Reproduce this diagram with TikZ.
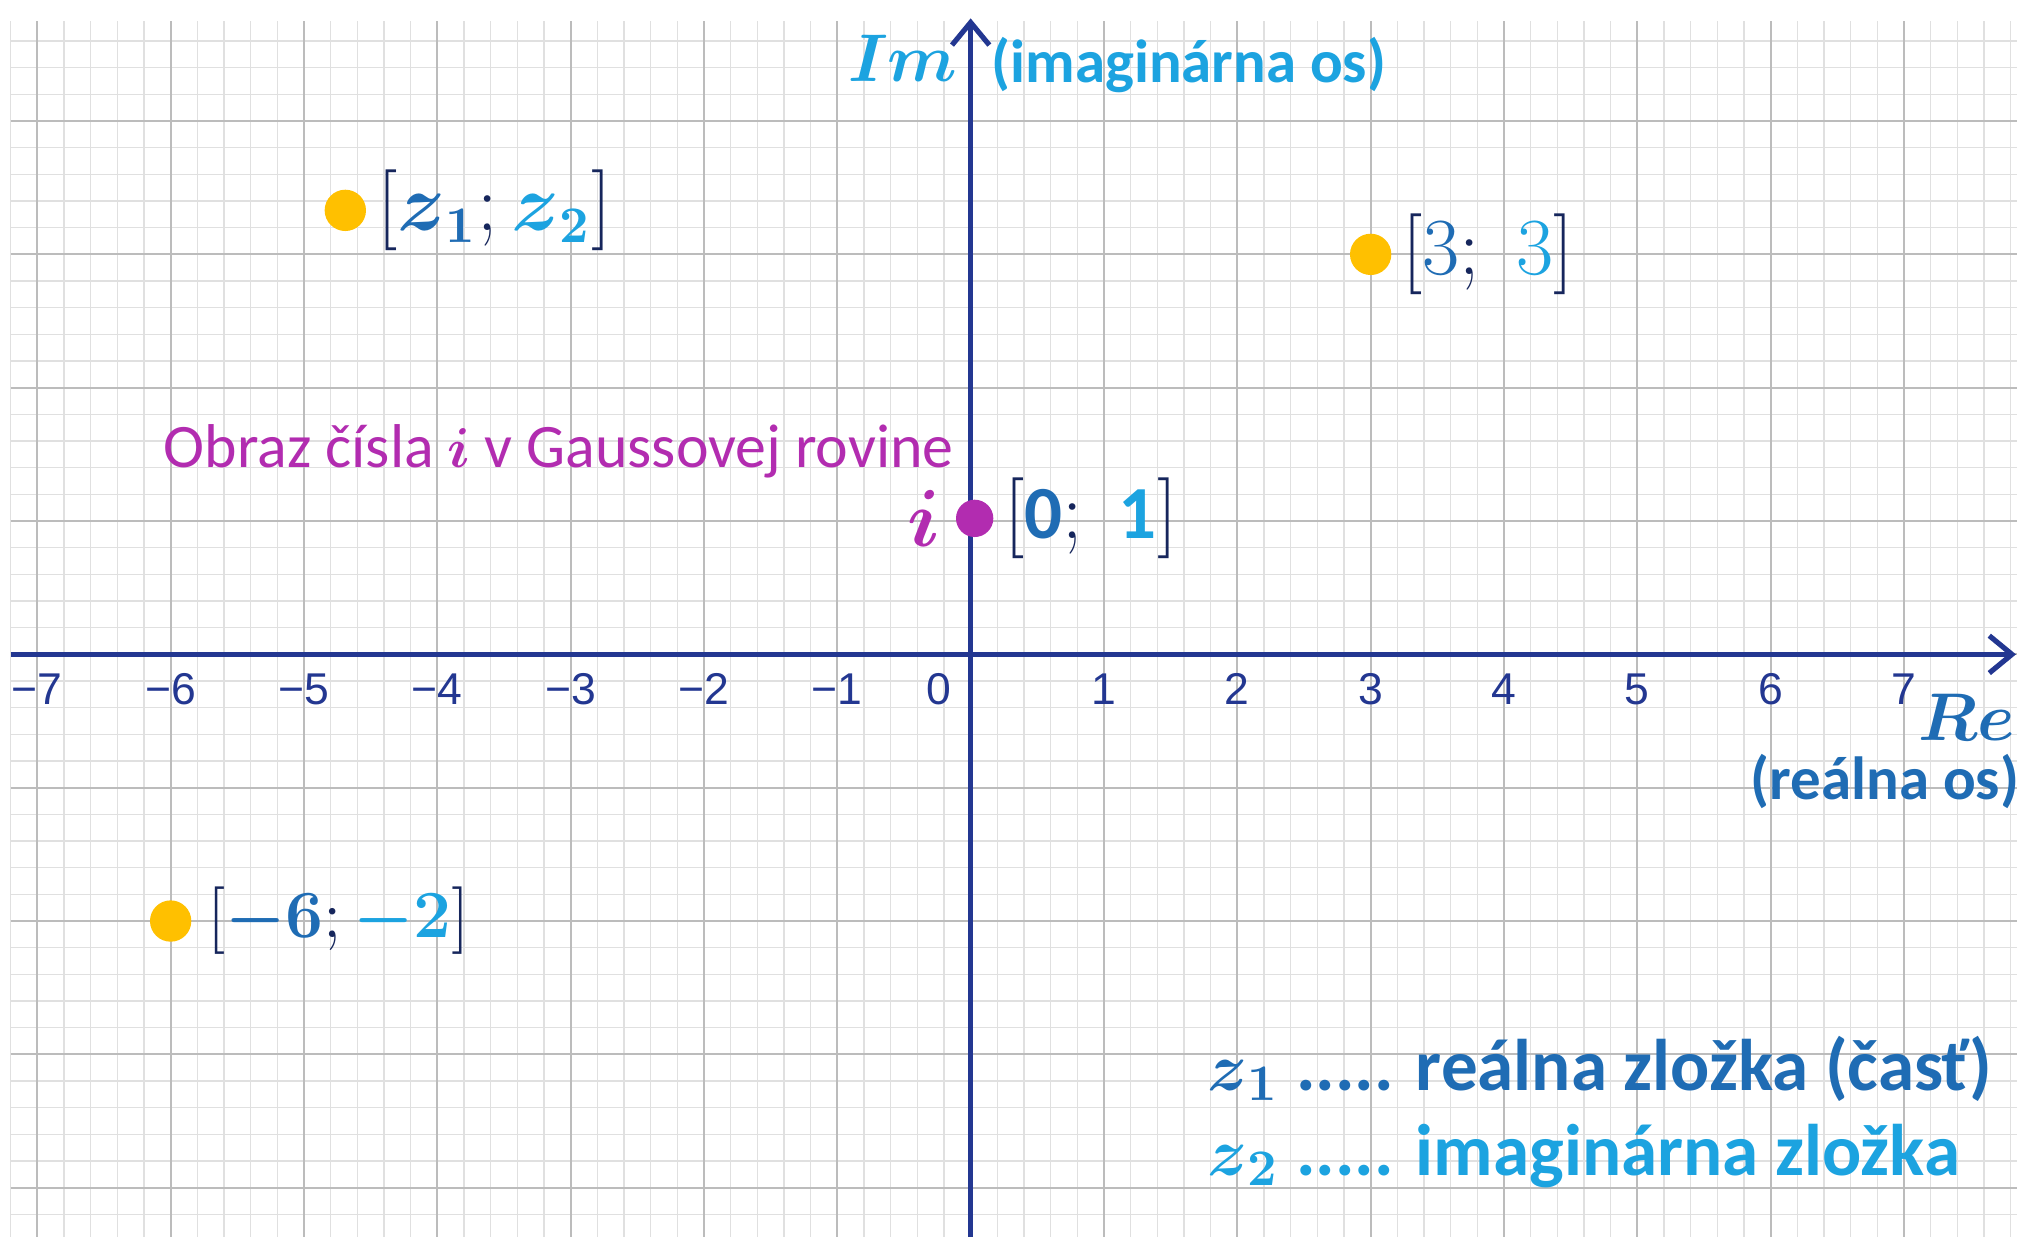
\documentclass[tikz,border=0pt]{standalone}
\usepackage{amsmath}
\usepackage{fontspec}
\setmainfont{Carlito}
\newfontfamily\cislafont{Liberation Sans}
\usetikzlibrary{arrows.meta,positioning}

\definecolor{osi}{RGB}{35,55,145}
\definecolor{modra}{RGB}{31,108,180}
\definecolor{svetla}{RGB}{28,163,224}
\definecolor{tmava}{RGB}{22,38,92}
\definecolor{zlta}{RGB}{255,192,0}
\definecolor{fialova}{RGB}{178,44,176}
\definecolor{mriezka}{RGB}{224,224,224}
\definecolor{hlavna}{RGB}{188,188,188}

\tikzset{
  os/.style={osi, line width=1.1pt},
  bod/.style={circle, fill=zlta, inner sep=0pt, minimum size=3.1mm},
  bodi/.style={circle, fill=fialova, inner sep=0pt, minimum size=2.8mm},
  cislo/.style={text=osi, font=\cislafont\fontsize{9.5}{11}\selectfont, inner sep=0pt},
  dvojica/.style={font=\fontsize{16}{19}\selectfont, inner sep=1pt},
  popis/.style={font=\bfseries\fontsize{13}{15}\selectfont, inner sep=0pt}
}

\begin{document}
\begin{tikzpicture}[>={Straight Barb[length=1.7mm,width=2.8mm,line width=1.1pt]}]
            % ==== DEFINITIONS ====
            \def\xmin{-7.2} % left end of the grid
            \def\xmax{7.85} % right end of the grid
            \def\ymin{-4.37}
            \def\ymax{4.75}
            \useasboundingbox (-7.28,-4.366) rectangle (7.90,4.908);

            % ==== GRID ====
            \draw[mriezka, line width=0.3pt, step=0.2] (\xmin,\ymin) grid (\xmax,\ymax);
            \draw[hlavna, line width=0.45pt, step=1] (\xmin,\ymin) grid (\xmax,\ymax);

            % ==== AXES ====
            \coordinate (xzac) at (\xmin,0);
            \coordinate (xkon) at (7.84,0);
            \coordinate (yzac) at (0,\ymin);
            \coordinate (ykon) at (0,4.77);
            \draw[os, ->] (xzac) -- (xkon);
            \draw[os, ->] (yzac) -- (ykon);

            % ==== TICK LABELS ====
            \foreach \k in {1,...,7} {
                \node[cislo] (tp\k) at (\k,-0.26) {\k};
                \node[cislo] (tm\k) at (-\k,-0.26) {−\k};
            }
            \node[cislo] (t0) at (-0.24,-0.26) {0};

            % ==== AXIS NAMES ====
            \node[anchor=east, text=svetla, font=\fontsize{15}{18}\selectfont, inner sep=0pt] (im) at (-0.09,4.47) {$\boldsymbol{Im}$};
            \node[popis, anchor=west, text=svetla] (imos) at (0.15,4.42) {(imaginárna os)};
            \node[anchor=east, text=modra, font=\fontsize{15}{18}\selectfont, inner sep=0pt] (re) at (7.84,-0.47) {$\boldsymbol{Re}$};
            \node[popis, anchor=east, text=modra] (reos) at (7.87,-0.95) {(reálna os)};

            % ==== POINTS ====
            \node[bod] (pz) at (-4.69,3.33) {};
            \node[dvojica, right=1pt of pz] (lz) {$\color{tmava}[\color{modra}\boldsymbol{z}_{\boldsymbol{1}}\color{tmava};\color{svetla}\boldsymbol{z}_{\boldsymbol{2}}\color{tmava}]$};

            \node[bod] (p33) at (3,3) {};
            \node[dvojica, right=1pt of p33] (l33) {$\color{tmava}[\color{modra}3\color{tmava};\;\color{svetla}3\color{tmava}]$};

            \node[bod] (p62) at (-6,-2) {};
            \node[dvojica, right=2pt of p62, font=\fontsize{15}{18}\selectfont] (l62) {$\color{tmava}[\color{modra}\boldsymbol{-6}\color{tmava};\color{svetla}\boldsymbol{-2}\color{tmava}]$};

            % ==== NUMBER i ====
            \node[bodi] (pi) at (0.03,1.02) {};
            \node[left=3pt of pi, text=fialova, font=\fontsize{16}{18}\selectfont, inner sep=0pt] (li) {$\boldsymbol{i}$};
            \node[dvojica, right=1pt of pi] (l01) {$\color{tmava}[\color{modra}\mathbf{0}\color{tmava};\;\color{svetla}\mathbf{1}\color{tmava}]$};
            \node[anchor=east, text=fialova, font=\fontsize{13.2}{15}\selectfont, inner sep=0pt] (obraz) at (-0.12,1.52) {Obraz čísla $\boldsymbol{i}$ v Gaussovej rovine};

            % ==== LEGEND ====
            \node[anchor=west, text=modra, font=\bfseries\fontsize{15.6}{19}\selectfont, inner sep=0pt] (leg1) at (1.77,-3.11) {$\boldsymbol{z}_{\boldsymbol{1}}$ ..... reálna zložka (časť)};
            \node[anchor=west, text=svetla, font=\bfseries\fontsize{15.6}{19}\selectfont, inner sep=0pt] (leg2) at (1.77,-3.76) {$\boldsymbol{z}_{\boldsymbol{2}}$ ..... imaginárna zložka};

        \end{tikzpicture}
\end{document}
